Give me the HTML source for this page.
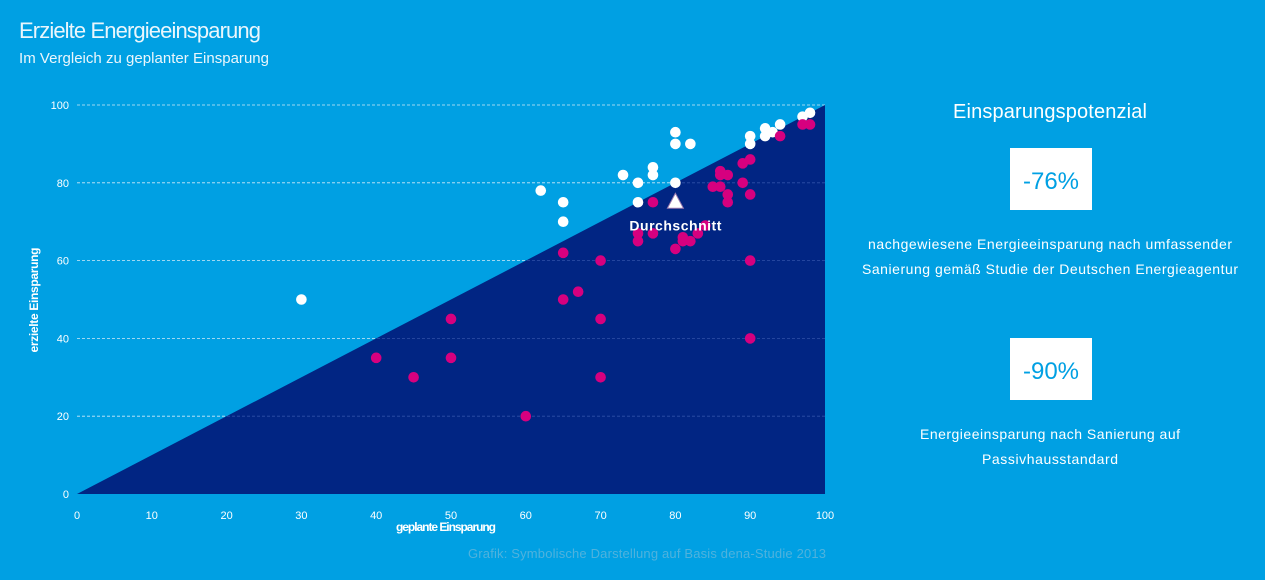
<!DOCTYPE html>
<html><head><meta charset="utf-8"><style>
body{margin:0;background:#00a0e3;width:1265px;height:580px;overflow:hidden;font-family:"Liberation Sans",sans-serif;}
svg{display:block}
</style></head><body>
<svg id="c" width="1265" height="580" xmlns="http://www.w3.org/2000/svg">
<defs><clipPath id="tri"><polygon id="clipPoly"/></clipPath></defs>
<rect width="1265" height="580" fill="#00a0e3"/>
<text x="19" y="38" font-size="22" fill="#eaf6fc" textLength="242">Erzielte Energieeinsparung</text>
<text x="19" y="63" font-size="15" fill="#eaf6fc" textLength="250">Im Vergleich zu geplanter Einsparung</text>
<g id="grid"></g>
<polygon id="area" fill="#012583"/>
<g id="grid2" clip-path="url(#tri)"></g>
<g id="ticks"></g>
<g id="pts"></g>
<text x="446" y="531" font-size="12" font-weight="bold" fill="#fff" text-anchor="middle" textLength="100">geplante Einsparung</text>
<text transform="translate(38,300) rotate(-90)" font-size="12" font-weight="bold" fill="#fff" text-anchor="middle" textLength="105">erzielte Einsparung</text>
<text x="826" y="558" font-size="13" fill="#4fb2dd" text-anchor="end" textLength="358">Grafik: Symbolische Darstellung auf Basis dena-Studie 2013</text>
<g>
<text x="1050" y="118" font-size="20" fill="#fff" text-anchor="middle" textLength="194">Einsparungspotenzial</text>
<rect x="1010" y="148" width="82" height="62" fill="#fff"/>
<text x="1051" y="189" font-size="24" fill="#00a0e3" text-anchor="middle">-76%</text>
<text x="1050" y="249" font-size="14" fill="#fff" text-anchor="middle" textLength="364">nachgewiesene Energieeinsparung nach umfassender</text>
<text x="1050" y="274" font-size="14" fill="#fff" text-anchor="middle" textLength="376">Sanierung gemäß Studie der Deutschen Energieagentur</text>
<rect x="1010" y="338" width="82" height="62" fill="#fff"/>
<text x="1051" y="379" font-size="24" fill="#00a0e3" text-anchor="middle">-90%</text>
<text x="1050" y="439" font-size="14" fill="#fff" text-anchor="middle" textLength="260">Energieeinsparung nach Sanierung auf</text>
<text x="1050" y="464" font-size="14" fill="#fff" text-anchor="middle" textLength="136">Passivhausstandard</text>
</g>
</svg>
<script>
const xTicks=[0,10,20,30,40,50,60,70,80,90,100];
const yTicks=[0,20,40,60,80,100];
const whiteX=[30,62,65,65,73,75,75,77,77,80,80,80,82,90,90,92,92,93,94,97,98];
const whiteY=[50,78,75,70,82,80,75,84,82,93,90,80,90,92,90,94,92,93,95,97,98];
const pinkX=[40,45,50,50,60,65,65,67,70,70,70,75,75,77,77,80,81,81,82,83,84,85,86,86,86,87,87,87,89,89,90,90,90,90,94,97,98];
const pinkY=[35,30,45,35,20,62,50,52,60,45,30,67,65,75,67,63,66,65,65,67,69,79,83,82,79,82,77,75,85,80,86,77,60,40,92,95,95];
const avg=[80,75];
const X=v=>77+v*7.48, Y=v=>494-v*3.89;
const NS="http://www.w3.org/2000/svg";
function mk(t,a,p){const e=document.createElementNS(NS,t);for(const k in a)e.setAttribute(k,a[k]);document.getElementById(p).appendChild(e);return e;}
yTicks.forEach(v=>{
 if(v>0){const l=mk('line',{x1:77,x2:825,y1:Y(v),y2:Y(v),stroke:'#cfeaf7','stroke-width':0.8,'stroke-dasharray':'3,2'},'grid');
 
 
 const l2=mk('line',{x1:77,x2:825,y1:Y(v),y2:Y(v),stroke:'#3050a8','stroke-width':0.8,'stroke-dasharray':'3,2'},'grid2');
 
 }
 const t=mk('text',{x:69,y:Y(v)+4,'font-size':11,fill:'#fff','text-anchor':'end'},'ticks');t.textContent=v;
 
 
});
xTicks.forEach(v=>{
 const t=mk('text',{x:X(v),y:519,'font-size':11,fill:'#fff','text-anchor':'middle'},'ticks');t.textContent=v;
 
 
});
const triPts=`${X(0)},${Y(0)} ${X(100)},${Y(100)} ${X(100)},${Y(0)}`;
document.getElementById('area').setAttribute('points',triPts);
document.getElementById('clipPoly').setAttribute('points',triPts);
whiteX.forEach((x,i)=>{const c=mk('circle',{cx:X(x),cy:Y(whiteY[i]),r:5.3,fill:'#fff'},'pts');
 
 });
pinkX.forEach((x,i)=>{const c=mk('circle',{cx:X(x),cy:Y(pinkY[i]),r:5.3,fill:'#d6007f'},'pts');
 
 });
const ax=X(avg[0]),ay=Y(avg[1]);
const tri=mk('polygon',{points:`${ax},${ay-9} ${ax-8},${ay+6} ${ax+8},${ay+6}`,fill:'#fff',stroke:'#9a7ab0','stroke-width':1},'pts');


const lb=mk('text',{x:ax,y:ay+28,'font-size':14,'font-weight':'bold',fill:'#fff','text-anchor':'middle',textLength:92},'pts');lb.textContent='Durchschnitt';


</script>
</body></html>
